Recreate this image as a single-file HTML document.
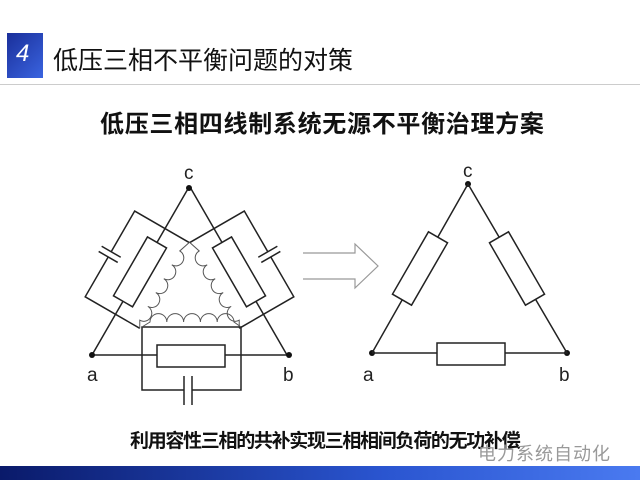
<!DOCTYPE html>
<html><head><meta charset="utf-8"><style>
body{margin:0;width:640px;height:480px;background:#fff;overflow:hidden;position:relative;font-family:"Liberation Sans","Noto Sans CJK SC",sans-serif}
.t{position:absolute;white-space:nowrap}
</style></head><body>
<div style="position:absolute;left:7px;top:33px;width:36px;height:45px;background:linear-gradient(135deg,#1a2f9a,#3a64e0);"></div>
<div class="t" style="left:16px;top:40px;color:#fff;font-size:24px;font-style:italic">4</div>
<div class="t" style="left:53px;top:41px;font-size:25px;color:#111">低压三相不平衡问题的对策</div>
<div style="position:absolute;left:0;top:84px;width:640px;height:1px;background:#ccc"></div>
<div class="t" style="left:100px;top:104px;font-size:24px;font-weight:bold;color:#111;letter-spacing:0.7px">低压三相四线制系统无源不平衡治理方案</div>
<div class="t" style="left:130px;top:426px;font-size:19px;font-weight:bold;color:#111;letter-spacing:-1.3px">利用容性三相的共补实现三相相间负荷的无功补偿</div>
<div class="t" style="left:478px;top:440px;font-size:18px;color:#999;letter-spacing:1px">电力系统自动化</div>
<div style="position:absolute;left:0;top:466px;width:640px;height:14px;background:linear-gradient(90deg,#0a1a6a,#2a55d0 60%,#4a7af0)"></div>
<svg width="640" height="480" style="position:absolute;left:0;top:0" fill="none" stroke="#222" stroke-width="1.5">
<g font-family="Liberation Sans" font-size="19" fill="#222" stroke="none">
<text x="184" y="179">c</text><text x="87" y="381">a</text><text x="283" y="381">b</text>
<text x="463" y="177">c</text><text x="363" y="381">a</text><text x="559" y="381">b</text>
</g>
<g transform="translate(92,355) rotate(-60)">
<line x1="0" y1="0" x2="193" y2="0"/>
<polyline points="47,28 47,-35 93,-35"/><polyline points="99,-35 146,-35 146,28"/>
<line x1="93" y1="-46" x2="93" y2="-24"/><line x1="99" y1="-46" x2="99" y2="-24"/>
<rect x="62" y="-11" width="68" height="22" fill="#fff"/>
<path d="M47,28 L54,24 a8,8 0 0 0 16,0 a8,8 0 0 0 16,0 a8,8 0 0 0 16,0 a8,8 0 0 0 16,0 a8,8 0 0 0 16,0 L146,28" stroke="#555" stroke-width="1"/>
</g>
<g transform="translate(379,0) scale(-1,1)">
<g transform="translate(92,355) rotate(-60)">
<line x1="0" y1="0" x2="193" y2="0"/>
<polyline points="47,28 47,-35 93,-35"/><polyline points="99,-35 146,-35 146,28"/>
<line x1="93" y1="-46" x2="93" y2="-24"/><line x1="99" y1="-46" x2="99" y2="-24"/>
<rect x="62" y="-11" width="68" height="22" fill="#fff"/>
<path d="M47,28 L54,24 a8,8 0 0 0 16,0 a8,8 0 0 0 16,0 a8,8 0 0 0 16,0 a8,8 0 0 0 16,0 a8,8 0 0 0 16,0 L146,28" stroke="#555" stroke-width="1"/>
</g></g>
<line x1="92" y1="355" x2="289" y2="355"/>
<polyline points="184,390 142,390 142,327 241,327 241,390 192,390"/>
<line x1="184" y1="376" x2="184" y2="405"/><line x1="192" y1="376" x2="192" y2="405"/>
<rect x="157" y="345" width="68" height="22" fill="#fff"/>
<path d="M142,327 L150,322 a8.4,8.4 0 0 1 16.8,0 a8.4,8.4 0 0 1 16.8,0 a8.4,8.4 0 0 1 16.8,0 a8.4,8.4 0 0 1 16.8,0 a8.4,8.4 0 0 1 16.8,0 L241,327" stroke="#555" stroke-width="1"/>
<g fill="#111" stroke="none"><circle cx="189" cy="188" r="3"/><circle cx="92" cy="355" r="3"/><circle cx="289" cy="355" r="3"/>
<circle cx="468" cy="184" r="3"/><circle cx="372" cy="353" r="3"/><circle cx="567" cy="353" r="3"/></g>
<path d="M303,253 H355 V244 L378,266 L355,288 V279 H303" stroke="#999" stroke-width="1.2"/>
<polyline points="372,353 468,184 567,353 372,353"/>
<rect x="437" y="343" width="68" height="22" fill="#fff"/>
<g transform="translate(420,268.5) rotate(-60)"><rect x="-36" y="-11" width="72" height="22" fill="#fff"/></g>
<g transform="translate(517,268.5) rotate(60)"><rect x="-36" y="-11" width="72" height="22" fill="#fff"/></g>
</svg>
</body></html>
